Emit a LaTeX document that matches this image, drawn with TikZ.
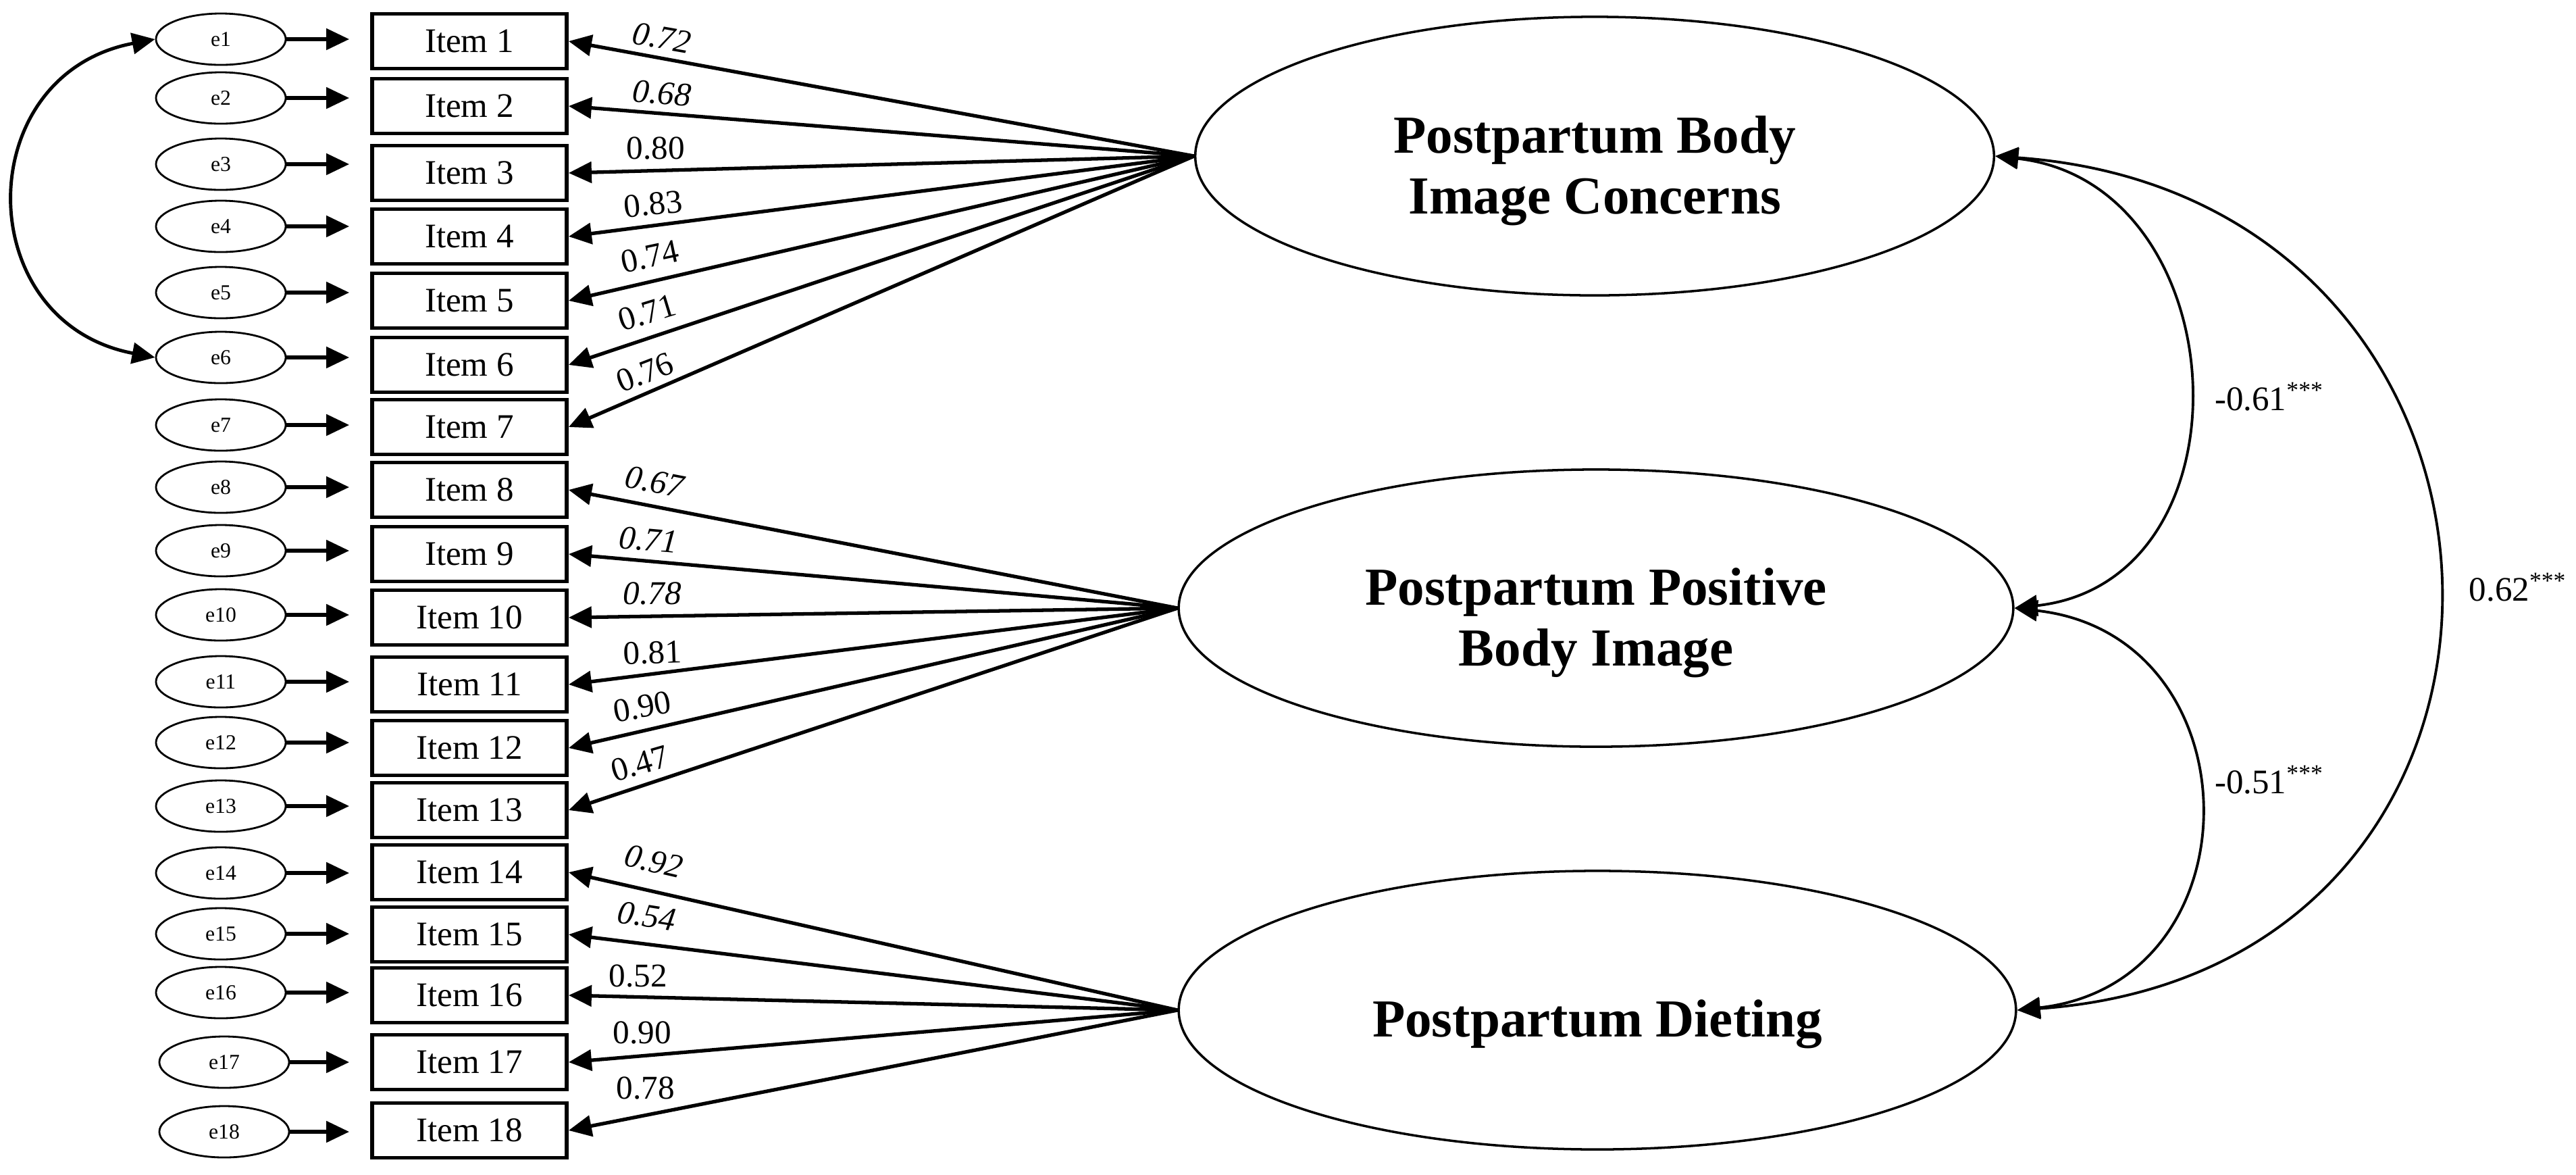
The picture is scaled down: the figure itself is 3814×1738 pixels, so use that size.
\documentclass[tikz,border=0pt]{standalone}
\usepackage{fontspec}
\setmainfont{Liberation Serif}
\usetikzlibrary{arrows.meta,shapes.geometric,calc}
\begin{document}
\begin{tikzpicture}[x=0.01cm,y=-0.01cm,
  >={Triangle[length=3.4mm,width=3.1mm]},
  evar/.style={draw,line width=0.8pt,ellipse,minimum width=1.92cm,minimum height=0.76cm,inner sep=0pt,font=\fontsize{9}{10}\selectfont},
  itembox/.style={draw,line width=1.6pt,rectangle,minimum width=2.88cm,minimum height=0.81cm,inner sep=0pt,font=\fontsize{14.5}{16}\selectfont},
  latent/.style={draw,line width=1pt,ellipse,inner sep=0pt},
  lattext/.style={font=\fontsize{22.5}{25.5}\selectfont\bfseries,align=center,inner sep=0pt},
  earr/.style={->,line width=1.5pt,shorten >=0.31cm},
  load/.style={->,line width=1.5pt},
  cov/.style={<->,line width=1.1pt},
  ecov/.style={<->,line width=1.4pt},
  lab/.style={font=\fontsize{14}{16}\selectfont,inner sep=0pt},
  covlab/.style={font=\fontsize{14.5}{16}\selectfont,inner sep=0pt}
]
\useasboundingbox (0,0) rectangle (3814,1738);
\fill[white] (0,0) rectangle (3814,1738);

% observed items
\foreach \n/\y in {1/61,2/157,3/256,4/350,5/445,6/540,7/632,8/725,9/820,10/914,11/1013,12/1107,13/1199,14/1291,15/1383,16/1473,17/1572,18/1673}
  \node[itembox] (i\n) at (695,\y) {Item \n};

% error terms
\foreach \n/\x/\y in {1/327/58,2/327/145,3/327/243,4/327/335,5/327/433,6/327/529,7/327/629,8/327/721,9/327/815,10/327/910,11/327/1009,12/327/1099,13/327/1193,14/327/1292,15/327/1382,16/327/1469,17/332/1572,18/332/1675}
  \node[evar] (e\n) at (\x,\y) {e\n};

\foreach \n in {1,...,18}
  \draw[earr] (e\n.east) -- (e\n.east -| i\n.west);

% correlated errors e1-e6
\draw[ecov] (e1.west) .. controls (-45,110) and (-45,477) .. (e6.west);

% latent variables
\node[latent,minimum width=11.82cm,minimum height=4.12cm] (L1) at (2361,231) {};
\node[latent,minimum width=12.35cm,minimum height=4.10cm] (L2) at (2363,900) {};
\node[latent,minimum width=12.39cm,minimum height=4.12cm] (L3) at (2365,1495) {};
\node[lattext] (t1) at ([yshift=-0.22cm]L1.center) {Postpartum Body\\Image Concerns};
\node[lattext] (t2) at ([yshift=-0.22cm]L2.center) {Postpartum Positive\\Body Image};
\node[lattext] (t3) at ([yshift=-0.21cm]L3.center) {Postpartum Dieting};

% loadings
\foreach \n in {1,...,7} \draw[load] (L1.west) -- (i\n.east);
\foreach \n in {8,...,13} \draw[load] (L2.west) -- (i\n.east);
\foreach \n in {14,...,18} \draw[load] (L3.west) -- (i\n.east);

% loading labels
\node[lab,rotate=-10] (l1) at (980,56) {\textit{0.72}};
\node[lab,rotate=-5] (l2) at (980,138) {\textit{0.68}};
\node[lab] (l3) at (971,219) {0.80};
\node[lab,rotate=6] (l4) at (967,302) {0.83};
\node[lab,rotate=12] (l5) at (962,380) {0.74};
\node[lab,rotate=17] (l6) at (958,463) {0.71};
\node[lab,rotate=21] (l7) at (955,551) {0.76};
\node[lab,rotate=-11] (l8) at (970,713) {\textit{0.67}};
\node[lab,rotate=-5] (l9) at (960,799) {\textit{0.71}};
\node[lab] (l10) at (966,878) {\textit{0.78}};
\node[lab,rotate=2] (l11) at (966,966) {0.81};
\node[lab,rotate=10] (l12) at (951,1046) {0.90};
\node[lab,rotate=16] (l13) at (947,1130) {0.47};
\node[lab,rotate=-13] (l14) at (968,1275) {\textit{0.92}};
\node[lab,rotate=-9] (l15) at (958,1356) {\textit{0.54}};
\node[lab] (l16) at (945,1444) {0.52};
\node[lab] (l17) at (951,1528) {0.90};
\node[lab] (l18) at (956,1610) {0.78};

% covariances
\draw[cov] (L1.east) .. controls +(360,40) and +(360,-40) .. (L2.east);
\draw[cov] (L2.east) .. controls +(360,40) and +(360,-40) .. (L3.east);
\draw[cov] (L1.east) .. controls +(850,60) and +(850,-60) .. (L3.east);
\node[covlab] (c12) at (3360,587) {-0.61\textsuperscript{***}};
\node[covlab] (c23) at (3360,1154) {-0.51\textsuperscript{***}};
\node[covlab] (c13) at (3728,869) {0.62\textsuperscript{***}};
\end{tikzpicture}
\end{document}
